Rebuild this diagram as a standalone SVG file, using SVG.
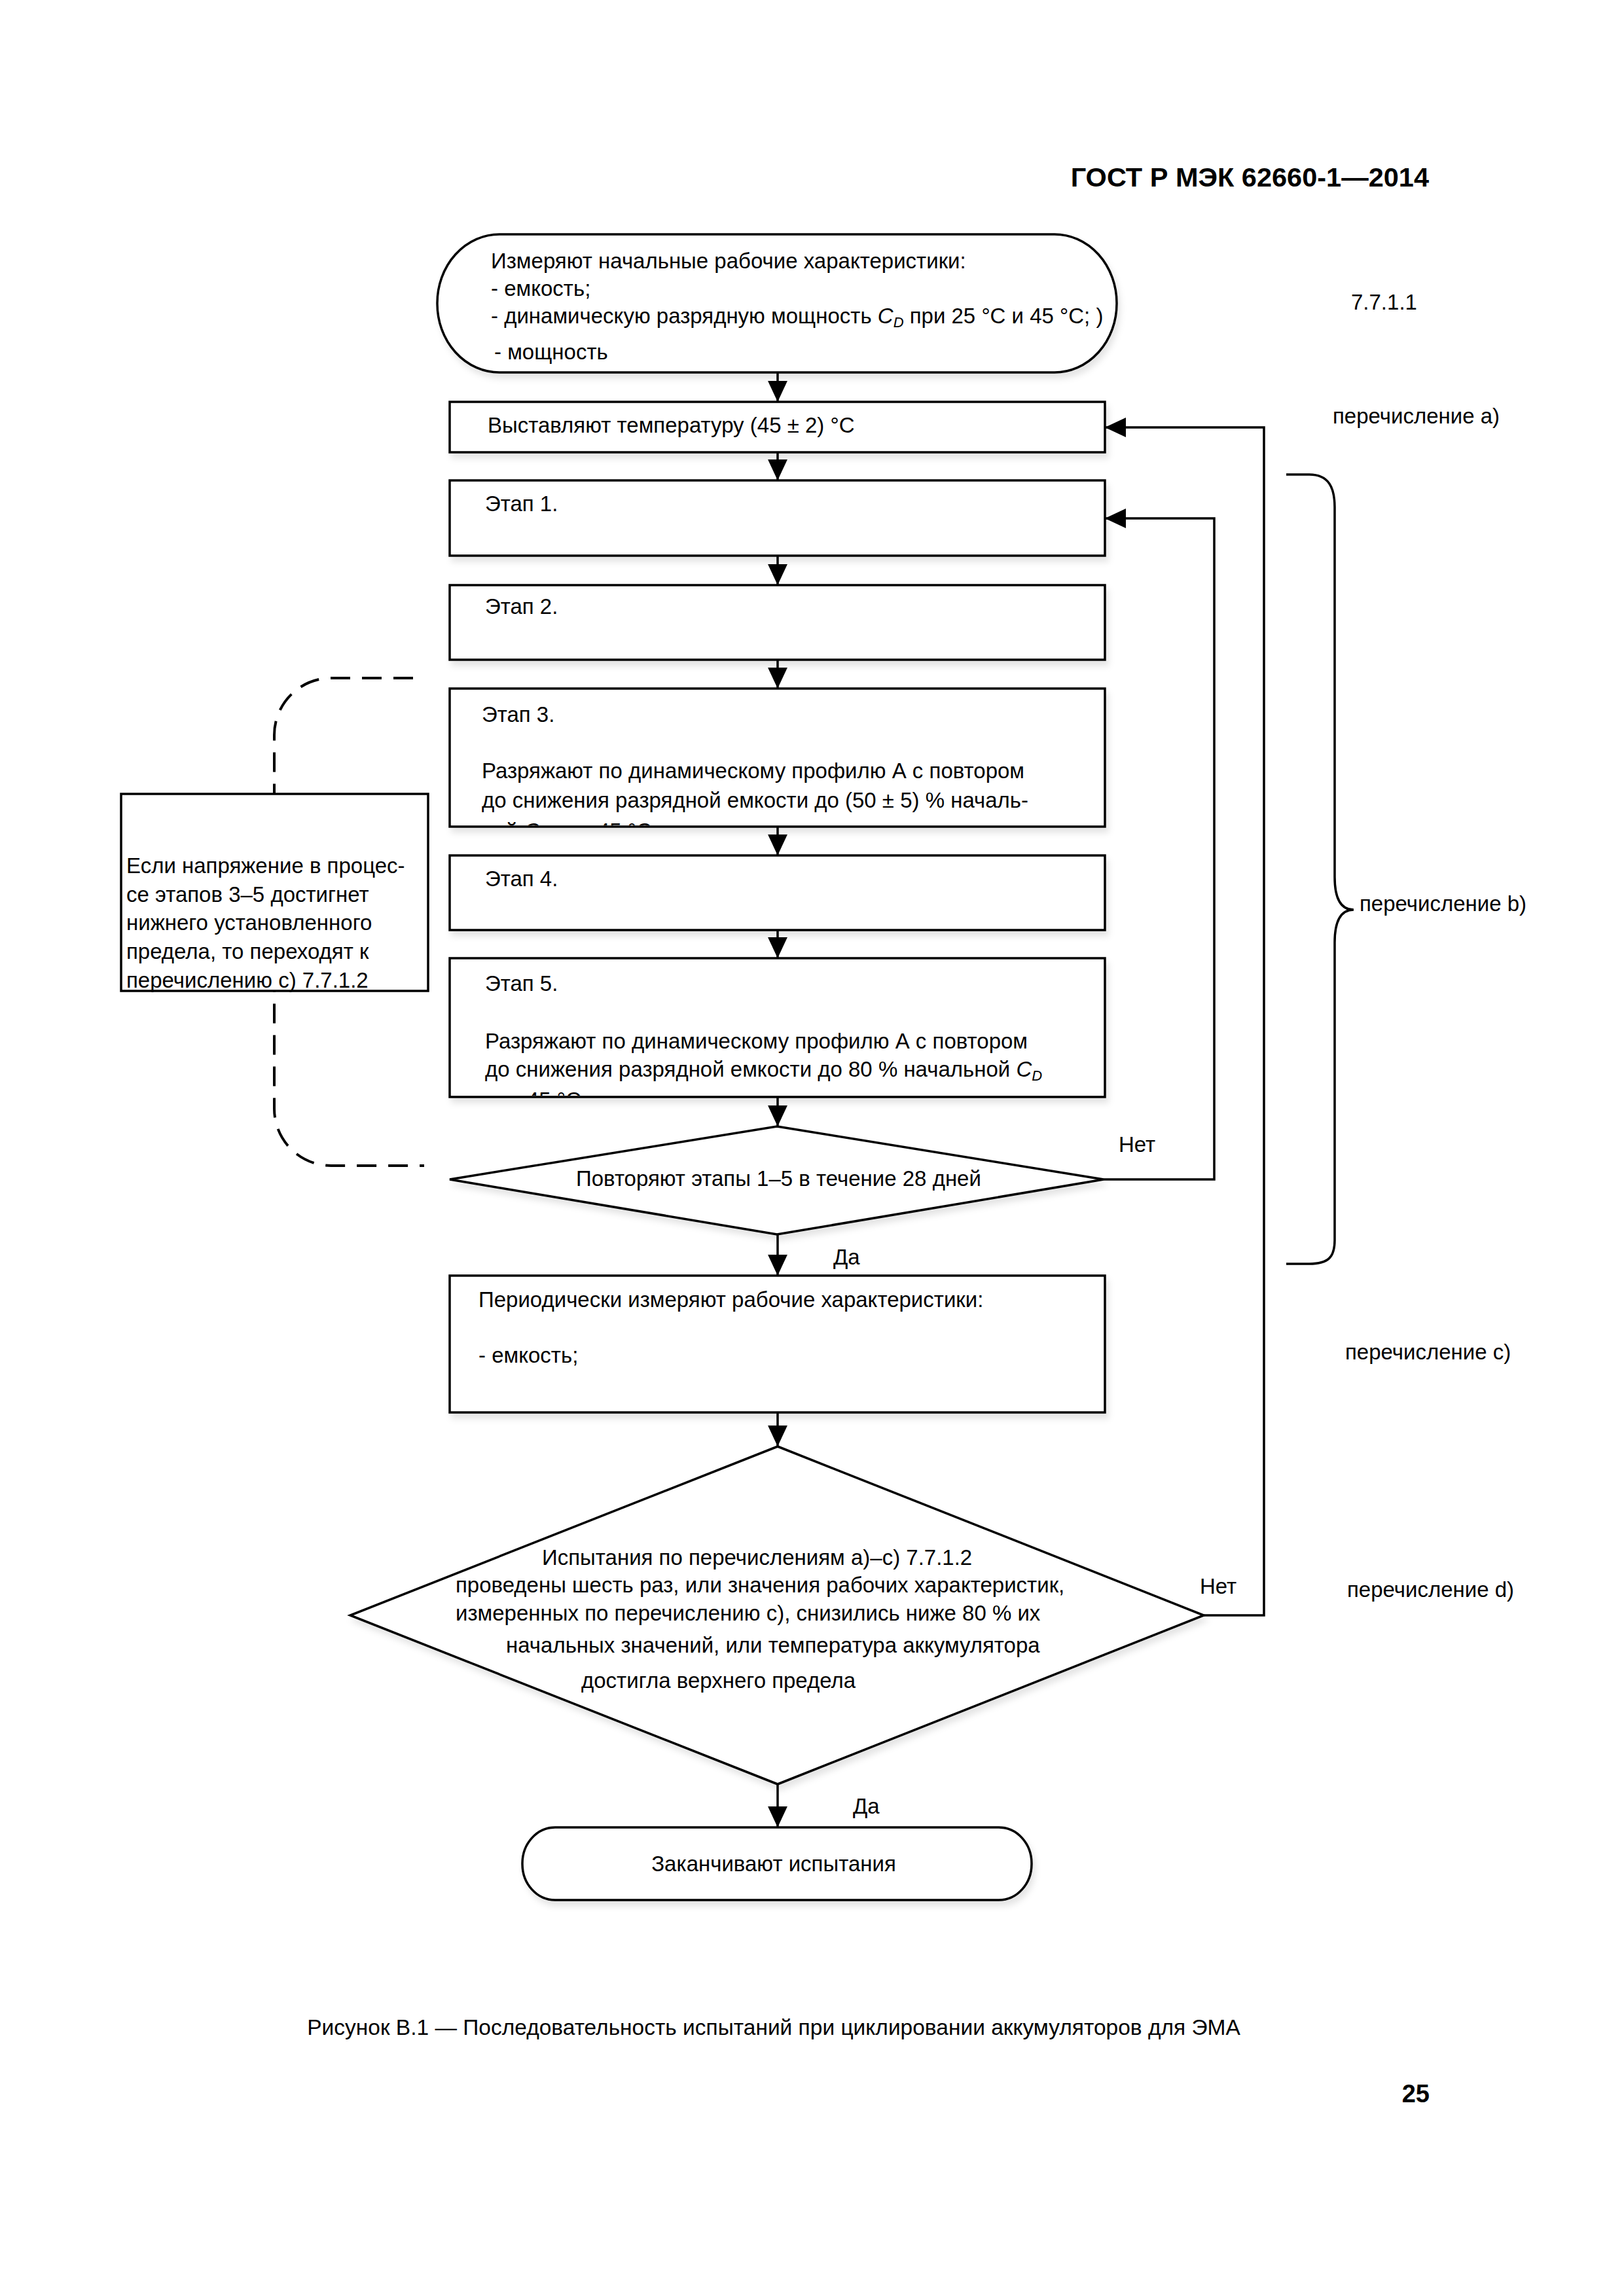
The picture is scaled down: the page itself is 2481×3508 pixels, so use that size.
<svg xmlns="http://www.w3.org/2000/svg" width="2481" height="3508" viewBox="0 0 2481 3508">
<style>
text{font-family:"Liberation Sans",Arial,sans-serif;font-size:33px;fill:#000}
.hdr{font-weight:bold;font-size:41.5px}
.pg{font-weight:bold;font-size:38px}
.cap{font-size:33.5px}
.node{fill:#fff;stroke:#000;stroke-width:3.5}
.conn{fill:none;stroke:#000;stroke-width:3.5}
.dash{fill:none;stroke:#000;stroke-width:4;stroke-dasharray:30 18}
.brace{fill:none;stroke:#000;stroke-width:3.5}
.it{font-style:italic}
</style>
<defs>
<marker id="arr" markerUnits="userSpaceOnUse" markerWidth="32" markerHeight="32" viewBox="0 0 30 28" refX="30" refY="14" orient="auto">
<path d="M0,0 L30,14 L0,28 Z" fill="#000"/>
</marker>
<filter id="sh" x="-5%" y="-5%" width="115%" height="130%">
<feDropShadow dx="4" dy="8" stdDeviation="5" flood-color="#000" flood-opacity="0.10"/>
</filter>
<clipPath id="c3"><rect x="688" y="1053" width="998" height="208"/></clipPath>
<clipPath id="c5"><rect x="688" y="1466" width="998" height="208"/></clipPath>
</defs>
<rect width="2481" height="3508" fill="#fff"/>

<text class="hdr" x="2183" y="285" text-anchor="end">ГОСТ Р МЭК 62660-1—2014</text>

<g id="connectors">
<path class="dash" d="M 631 1036 H 506 A 87 87 0 0 0 419 1123 V 1694 A 87 87 0 0 0 506 1781 H 648"/>
<line class="conn" x1="1188" y1="569" x2="1188" y2="614" marker-end="url(#arr)"/>
<line class="conn" x1="1188" y1="691" x2="1188" y2="734" marker-end="url(#arr)"/>
<line class="conn" x1="1188" y1="849" x2="1188" y2="894" marker-end="url(#arr)"/>
<line class="conn" x1="1188" y1="1008" x2="1188" y2="1052" marker-end="url(#arr)"/>
<line class="conn" x1="1188" y1="1263" x2="1188" y2="1307" marker-end="url(#arr)"/>
<line class="conn" x1="1188" y1="1421" x2="1188" y2="1464" marker-end="url(#arr)"/>
<line class="conn" x1="1188" y1="1676" x2="1188" y2="1721" marker-end="url(#arr)"/>
<line class="conn" x1="1188" y1="1886" x2="1188" y2="1949" marker-end="url(#arr)"/>
<line class="conn" x1="1188" y1="2158" x2="1188" y2="2210" marker-end="url(#arr)"/>
<line class="conn" x1="1188" y1="2726" x2="1188" y2="2792" marker-end="url(#arr)"/>
<path class="conn" d="M 1686 1802 H 1855 V 792 H 1688" marker-end="url(#arr)"/>
<path class="conn" d="M 1839 2468 H 1931 V 653 H 1688" marker-end="url(#arr)"/>
</g>

<g id="start">
<rect class="node" filter="url(#sh)" x="668" y="358" width="1038" height="211" rx="95" ry="105"/>
<text x="750" y="410">Измеряют начальные рабочие характеристики:</text>
<text x="750" y="452">- емкость;</text>
<text x="750" y="494">- динамическую разрядную мощность <tspan class="it">C</tspan><tspan class="it" font-size="22" dy="6">D</tspan><tspan dy="-6"> при 25 °C и 45 °C; )</tspan></text>
<text x="755" y="549">- мощность</text>
</g>

<g id="settemp">
<rect class="node" filter="url(#sh)" x="687" y="614" width="1001" height="77"/>
<text x="745" y="661">Выставляют температуру (45 ± 2) °C</text>
</g>

<g id="stage1">
<rect class="node" filter="url(#sh)" x="687" y="734" width="1001" height="115"/>
<text x="741" y="781">Этап 1.</text>
</g>

<g id="stage2">
<rect class="node" filter="url(#sh)" x="687" y="894" width="1001" height="114"/>
<text x="741" y="938">Этап 2.</text>
</g>

<g id="stage3">
<rect class="node" filter="url(#sh)" x="687" y="1052" width="1001" height="211"/>
<text x="736" y="1103">Этап 3.</text>
<text x="736" y="1189">Разряжают по динамическому профилю А с повтором</text>
<text x="736" y="1234">до снижения разрядной емкости до (50 ± 5) % началь-</text>
<text x="736" y="1281" clip-path="url(#c3)">ной <tspan class="it">C</tspan><tspan class="it" font-size="22" dy="6">D</tspan><tspan dy="-6"> при 45 °C.</tspan></text>
</g>

<g id="stage4">
<rect class="node" filter="url(#sh)" x="687" y="1307" width="1001" height="114"/>
<text x="741" y="1354">Этап 4.</text>
</g>

<g id="stage5">
<rect class="node" filter="url(#sh)" x="687" y="1464" width="1001" height="212"/>
<text x="741" y="1514">Этап 5.</text>
<text x="741" y="1602">Разряжают по динамическому профилю А с повтором</text>
<text x="741" y="1645">до снижения разрядной емкости до 80 % начальной <tspan class="it">C</tspan><tspan class="it" font-size="22" dy="6">D</tspan></text>
<text x="741" y="1692" clip-path="url(#c5)">при 45 °C.</text>
</g>

<g id="note">
<rect class="node" x="185" y="1213" width="469" height="301"/>
<text x="193" y="1334">Если напряжение в процес-</text>
<text x="193" y="1378">се этапов 3–5 достигнет</text>
<text x="193" y="1421">нижнего установленного</text>
<text x="193" y="1465">предела, то переходят к</text>
<text x="193" y="1509">перечислению с) 7.7.1.2</text>
</g>

<g id="repeat">
<polygon class="node" filter="url(#sh)" points="1187,1721 1686,1802 1187,1886 687,1802"/>
<text x="880" y="1812">Повторяют этапы 1–5 в течение 28 дней</text>
</g>

<g id="periodic">
<rect class="node" filter="url(#sh)" x="687" y="1949" width="1001" height="209"/>
<text x="731" y="1997">Периодически измеряют рабочие характеристики:</text>
<text x="731" y="2082">- емкость;</text>
</g>

<g id="check">
<polygon class="node" filter="url(#sh)" points="1188,2210 1839,2468 1188,2726 535,2468"/>
<text x="828" y="2391">Испытания по перечислениям а)–с) 7.7.1.2</text>
<text x="696" y="2433">проведены шесть раз, или значения рабочих характеристик,</text>
<text x="696" y="2476">измеренных по перечислению с), снизились ниже 80 % их</text>
<text x="773" y="2525">начальных значений, или температура аккумулятора</text>
<text x="888" y="2579">достигла верхнего предела</text>
</g>

<g id="end">
<rect class="node" filter="url(#sh)" x="798" y="2792" width="778" height="111" rx="50" ry="55"/>
<text x="1182" y="2859" text-anchor="middle">Заканчивают испытания</text>
</g>

<g id="labels">
<text x="1709" y="1760">Нет</text>
<text x="1273" y="1932">Да</text>
<text x="1833" y="2435">Нет</text>
<text x="1303" y="2771">Да</text>
<text x="2064" y="473">7.7.1.1</text>
<text x="2036" y="647">перечисление а)</text>
<text x="2077" y="1392">перечисление b)</text>
<text x="2055" y="2077">перечисление с)</text>
<text x="2058" y="2440">перечисление d)</text>
</g>

<path id="brace" class="brace" d="M 1965 725 H 2000 C 2030 725 2039 745 2039 775 V 1340 C 2039 1375 2050 1390 2068 1390 C 2050 1390 2039 1405 2039 1440 V 1895 C 2039 1920 2030 1931 2000 1931 H 1965"/>

<text class="cap" x="1182" y="3109" text-anchor="middle">Рисунок В.1 — Последовательность испытаний при циклировании аккумуляторов для ЭМА</text>
<text class="pg" x="2184" y="3212" text-anchor="end">25</text>
</svg>
